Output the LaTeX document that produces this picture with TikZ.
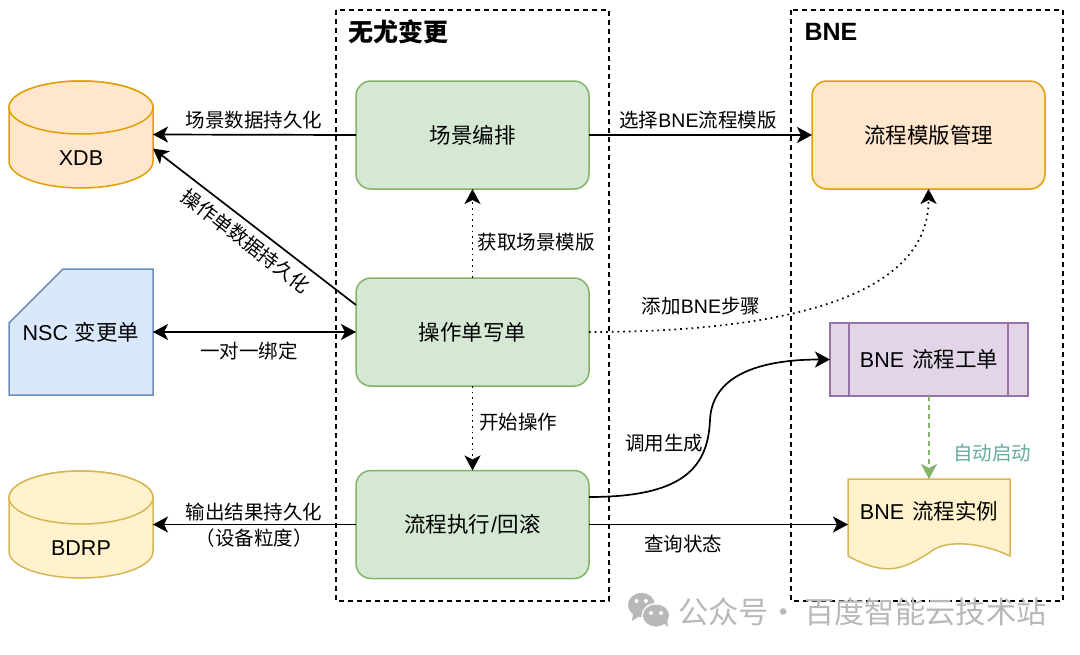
\documentclass[tikz,border=0pt]{standalone}
\usepackage{fontspec}
\setmainfont{Liberation Sans}
\newfontfamily\cjk{Noto Sans CJK SC}
\usetikzlibrary{calc,arrows.meta}
\newcommand\lat[1]{{\rmfamily #1}}
\newcommand\pxfont[1]{\fontsize{#1}{#1}\selectfont}

\definecolor{greenFill}{HTML}{D5E8D4}
\definecolor{greenLine}{HTML}{82B366}
\definecolor{orangeFill}{HTML}{FFE6CC}
\definecolor{orangeLine}{HTML}{E0A000}
\definecolor{blueFill}{HTML}{DAE8FC}
\definecolor{blueLine}{HTML}{6C8EBF}
\definecolor{yellowFill}{HTML}{FFF2CC}
\definecolor{yellowLine}{HTML}{D6B656}
\definecolor{purpleFill}{HTML}{E1D5E7}
\definecolor{purpleLine}{HTML}{9673A6}
\definecolor{autoText}{HTML}{67AB9F}
\definecolor{markGray}{HTML}{B8B8B8}

\tikzset{
  every node/.style={inner sep=0pt,outer sep=0pt,font=\cjk\pxfont{19.5}},
  frame/.style={draw,line width=1.4pt,dash pattern=on 5pt off 4pt},
  title/.style={font=\cjk\bfseries\pxfont{25}},
  stepbox/.style={draw=greenLine,fill=greenFill,line width=1.5pt,rounded corners=15pt,
    minimum width=233pt,minimum height=108pt,font=\cjk\pxfont{21.5}},
  bigtext/.style={font=\cjk\pxfont{21.5}},
  flow/.style={-{Stealth[length=15pt,width=16pt,inset=4pt]},line width=1.7pt},
  twoway/.style={{Stealth[length=15pt,width=16pt,inset=4pt]}-{Stealth[length=15pt,width=16pt,inset=4pt]},line width=1.7pt},
  dots/.style={flow,dash pattern=on 1.7pt off 4pt},
}

%% cylinder drawn around an empty node
\newcommand\dbCylinder[2]{
  \draw[line width=1.5pt,#2] ($(#1.north west)+(0,26.5)$) -- ($(#1.south west)+(0,-26.5)$)
    arc[start angle=180,end angle=360,x radius=72pt,y radius=26.5pt]
    -- ($(#1.north east)+(0,26.5)$)
    arc[start angle=0,end angle=180,x radius=72pt,y radius=26.5pt];
  \draw[line width=1.5pt,#2] ($(#1.north)+(0,26.5)$) ellipse[x radius=72pt,y radius=26.5pt];
}

\begin{document}
\begin{tikzpicture}[x=1pt,y=-1pt]
  \useasboundingbox (0,0) rectangle (1080,654);

  %% Dashed frames
  \draw[frame] (336,10) rectangle (609,601);
  \draw[frame] (791,10) rectangle (1063,601);
  \node[title] (TITLEA) at (398,32) {无尤变更};
  \node[title] (TITLEB) at (831,32) {\lat{BNE}};

  %% Middle column
  \node[stepbox] (SCENE) at (472.5,135)   {场景编排};
  \node[stepbox] (ORDER) at (472.5,332)   {操作单写单};
  \node[stepbox] (EXEC)  at (472.5,524.5) {流程执行\hspace{1pt}\lat{/}\hspace{1pt}回滚};

  %% Left column
  \node[minimum width=144pt,minimum height=107pt] (XDB) at (81,134.5) {};
  \dbCylinder{XDB}{draw=orangeLine,fill=orangeFill}
  \node[bigtext] (XDBTEXT) at (81,158) {\lat{XDB}};

  \node[minimum width=144pt,minimum height=126pt] (NSC) at (81,332) {};
  \draw[draw=blueLine,fill=blueFill,line width=1.5pt] ($(NSC.north west)+(54,0)$) -- (NSC.north east)
    -- (NSC.south east) -- (NSC.south west) -- ($(NSC.north west)+(0,54)$) -- cycle;
  \node[bigtext] (NSCTEXT) at (81,332) {\lat{NSC}\hspace{2pt} 变更单};

  \node[minimum width=144pt,minimum height=107pt] (BDRP) at (81,524.5) {};
  \dbCylinder{BDRP}{draw=yellowLine,fill=yellowFill}
  \node[bigtext] (BDRPTEXT) at (81,548) {\lat{BDRP}};

  %% Right column
  \node[draw=orangeLine,fill=orangeFill,line width=1.5pt,rounded corners=15pt,
        minimum width=233pt,minimum height=108pt,bigtext] (TEMPLATE) at (928.5,135) {流程模版管理};

  \node[draw=purpleLine,fill=purpleFill,line width=1.5pt,
        minimum width=198pt,minimum height=73pt,bigtext] (TICKET) at (929,359.5) {\lat{BNE}\hspace{3pt} 流程工单};
  \foreach \side/\off in {west/19,east/-20}
    \draw[purpleLine,line width=1.5pt] ($(TICKET.north \side)+(\off,0)$) -- ($(TICKET.south \side)+(\off,0)$);

  \node[minimum width=162pt,minimum height=89pt] (INST) at (929,523.5) {};
  \draw[draw=yellowLine,fill=yellowFill,line width=1.5pt] (INST.north west) -- (INST.north east)
    -- ($(INST.south east)+(0,-12)$)
    .. controls ($(INST.south east)+(-27,-25)$) and ($(INST.south east)+(-65,-30)$) .. ($(INST.south)+(0,-15)$)
    .. controls ($(INST.south)+(-25,0)$) and ($(INST.south west)+(40,10)$) .. ($(INST.south west)+(0,-12)$)
    -- cycle;
  \node[bigtext] (INSTTEXT) at (929,511) {\lat{BNE}\hspace{3pt} 流程实例};

  %% Connectors
  \draw[flow] (SCENE.west) -- (XDB.east);
  \draw[flow] ($(ORDER.west)+(0,-27)$) -- ($(XDB.east)+(0,14)$);
  \draw[twoway] (NSC.east) -- (ORDER.west);
  \draw[flow] (EXEC.west) -- (BDRP.east);
  \draw[flow] (SCENE.east) -- (TEMPLATE.west);
  \draw[flow] (EXEC.east) -- (EXEC.east -| INST.west);
  \draw[dots] (ORDER.north) -- (SCENE.south);
  \draw[dots] (ORDER.south) -- (EXEC.north);
  \draw[dots] (ORDER.east) .. controls (790,332) and (929,295) .. (TEMPLATE.south);
  \draw[flow] ($(EXEC.east)+(0,-27.5)$) .. controls (680,497) and (708,470) .. (710,420)
    .. controls (712,375) and (760,359.5) .. (TICKET.west);
  \draw[flow,greenLine,dash pattern=on 5pt off 4pt] (TICKET.south) -- (INST.north);

  %% Labels
  \node (LBLA) at (254,120) {场景数据持久化};
  \node[rotate=-37.7] (LBLB) at (246,241) {操作单数据持久化};
  \node (LBLC) at (249,351) {一对一绑定};
  \node (LBLD) at (254,512) {输出结果持久化};
  \node (LBLE) at (254,538) {（设备粒度）};
  \node (LBLF) at (698,120) {选择\lat{BNE}流程模版};
  \node (LBLG) at (536,242) {获取场景模版};
  \node (LBLH) at (701,306) {添加\lat{BNE}步骤};
  \node (LBLI) at (518,422) {开始操作};
  \node (LBLJ) at (664,443) {调用生成};
  \node (LBLK) at (683,544) {查询状态};
  \node[text=autoText] (LBLL) at (992,453) {自动启动};

  %% Watermark
  \fill[markGray] (641.5,605) ellipse[x radius=13.5pt,y radius=12pt];
  \fill[markGray] (633,614) -- (632,621) -- (640,616) -- cycle;
  \fill[white] (656,615.5) ellipse[x radius=14.5pt,y radius=12.5pt];
  \fill[markGray] (656,615.5) ellipse[x radius=13pt,y radius=11pt];
  \fill[markGray] (662,622) -- (668,627) -- (667,618) -- cycle;
  \foreach \x/\y in {636.5/601,646/601,651/613,661/613}
    \fill[white] (\x,\y) circle[radius=2pt];
  \node[text=markGray,font=\cjk\pxfont{30.3},anchor=west] (MARK) at (678,612) {公众号·\hspace{5pt}百度智能云技术站};
\end{tikzpicture}
\end{document}
